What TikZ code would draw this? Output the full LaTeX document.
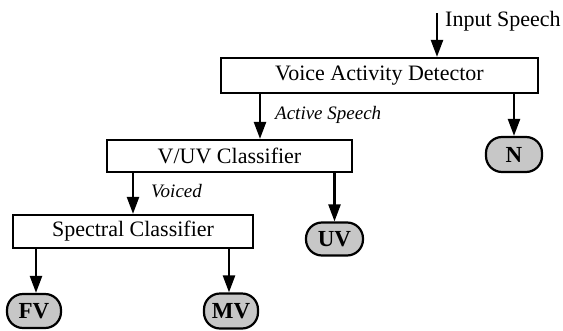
\documentclass[tikz,border=0pt]{standalone}
\usepackage{fontspec}
\setmainfont{Liberation Serif}
\usetikzlibrary{arrows.meta}
\begin{document}
\begin{tikzpicture}[x=1pt,y=-1pt,
  blockbox/.style={draw=black,line width=2.2pt,fill=white,inner sep=0pt,font=\fontsize{22}{24}\selectfont},
  leafnode/.style={draw=black,line width=2.2pt,fill=black!22,rounded corners=16pt,inner sep=0pt,minimum width=56pt,minimum height=35pt,font=\fontsize{23}{25}\selectfont\bfseries},
  arr/.style={line width=2.4pt,-{Triangle[length=17pt,width=12pt]}},
  lbl/.style={anchor=west,inner sep=0pt,font=\fontsize{19}{21}\selectfont\itshape}]
\useasboundingbox (0,0) rectangle (563,330);
\node[blockbox,minimum width=317pt,minimum height=35pt] (vad) at (379.5,75.5) {Voice Activity Detector};
\node[blockbox,minimum width=245pt,minimum height=32pt] (vuv) at (229.5,156) {V/UV Classifier};
\node[blockbox,minimum width=240pt,minimum height=33pt] (spec) at (133,231.5) {Spectral Classifier};
\node[leafnode] (n) at (514,154.5) {N};
\node[leafnode,minimum width=57pt,minimum height=33pt] (uv) at (334.5,239) {UV};
\node[leafnode,minimum width=54pt,minimum height=34pt] (fv) at (34,311) {FV};
\node[leafnode,minimum width=54pt,minimum height=35pt] (mv) at (231,311) {MV};
\coordinate (in) at (437,13);
\coordinate (ax) at (260,0);
\coordinate (vx) at (133,0);
\coordinate (fx) at (36,0);
\coordinate (mx) at (229,0);
\draw[arr] (in) -- (vad.north -| in);
\node[anchor=west,inner sep=0pt,font=\fontsize{22}{24}\selectfont] (inlbl) at (445,21) {Input Speech};
\draw[arr] (vad.south -| ax) -- (vuv.north -| ax);
\node[lbl] (actlbl) at (275,115) {Active Speech};
\draw[arr] (vad.south -| n.north) -- (n.north);
\draw[arr] (vuv.south -| vx) -- (spec.north -| vx);
\node[lbl] (voilbl) at (151,191) {Voiced};
\draw[arr] (vuv.south -| uv.north) -- (uv.north);
\draw[arr] (spec.south -| fx) -- (fv.north -| fx);
\draw[arr] (spec.south -| mx) -- (mv.north -| mx);
\end{tikzpicture}
\end{document}
